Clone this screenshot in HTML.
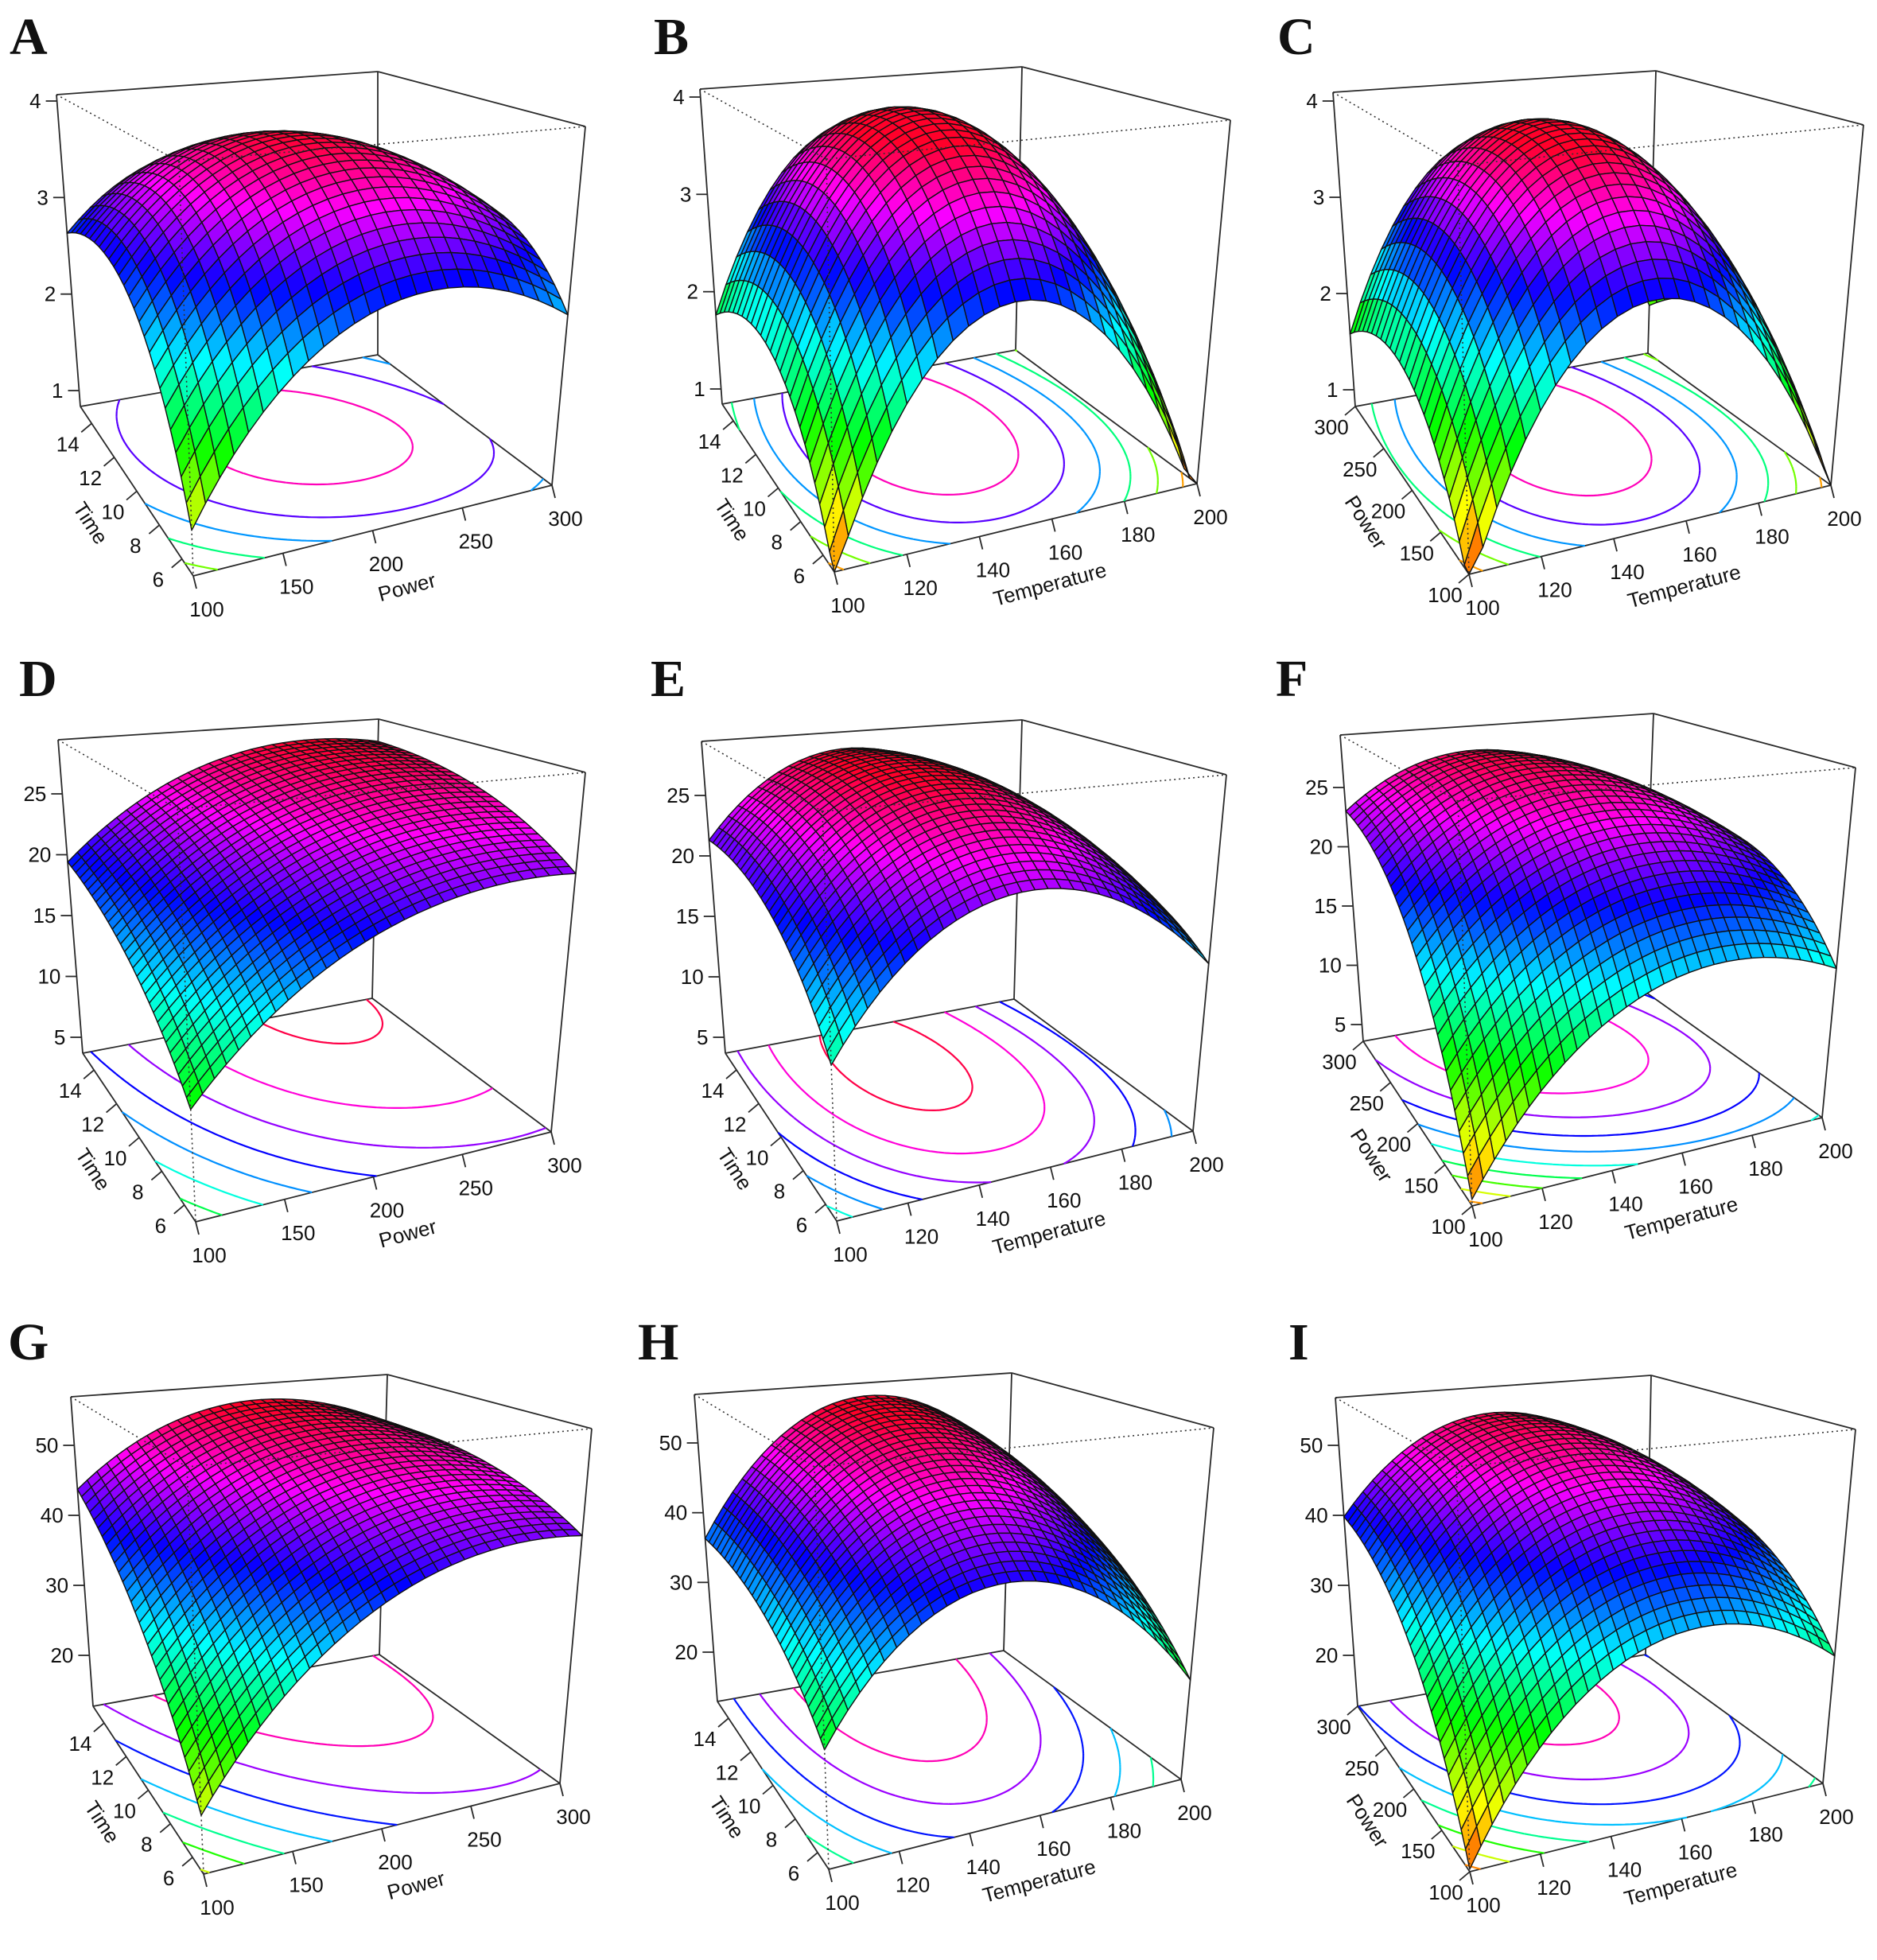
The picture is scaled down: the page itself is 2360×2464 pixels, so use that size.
<!DOCTYPE html>
<html><head><meta charset="utf-8">
<style>
html,body{margin:0;padding:0;background:#fff;}
svg{display:block;}
text{font-family:"Liberation Sans",Arial,sans-serif;fill:#111;}
.lbl{font-family:"Liberation Serif",serif;font-weight:bold;font-size:66px;}
</style></head>
<body>
<svg id="s" xmlns="http://www.w3.org/2000/svg" width="2360" height="2464" viewBox="0 0 2360 2464">
<rect width="2360" height="2464" fill="#fff"/>
<text class="lbl" x="12" y="68">A</text>
<text class="lbl" x="822" y="68">B</text>
<text class="lbl" x="1606" y="68">C</text>
<text class="lbl" x="24" y="875">D</text>
<text class="lbl" x="818" y="875">E</text>
<text class="lbl" x="1604" y="875">F</text>
<text class="lbl" x="10" y="1709">G</text>
<text class="lbl" x="802" y="1709">H</text>
<text class="lbl" x="1620" y="1709">I</text>
</svg>
<script>
(function(){
var NS="http://www.w3.org/2000/svg";
var svg=document.getElementById('s');
function el(tag,attrs,txt){var e=document.createElementNS(NS,tag);for(var k in attrs)e.setAttribute(k,attrs[k]);if(txt!==undefined)e.textContent=txt;svg.appendChild(e);return e;}
var time={name:"Time",lo:5,hi:15,ticks:[6,8,10,12,14]};
var power={name:"Power",lo:100,hi:300,ticks:[100,150,200,250,300]};
var temp={name:"Temperature",lo:100,hi:200,ticks:[100,120,140,160,180,200]};
var r1={lo:0.8,hi:3.8,lv:[1,1.5,2,2.5,3,3.5],zt:[1,2,3,4],n:25};
var r2={lo:3.5,hi:28,lv:[5,7.5,10,12.5,15,17.5,20,22.5,25,27.5],zt:[5,10,15,20,25],n:30};
var r3={lo:13,hi:54,lv:[15,20,25,30,35,40,45,50],zt:[20,30,40,50],n:30};
var panels=[
{c:{B00:[243,724],B10:[694,610],B01:[101,511],B11:[475,446],T00:[225,203],T10:[736,159],T01:[71,119],T11:[475,90]},tk:[[1,491],[4,127]],L:time,R:power,s:[1.19,2.37,2.63,2.68,2.62,3.78],r:r1},
{c:{B00:[1049,719],B10:[1505,608],B01:[908,508],B11:[1277,440],T00:[1039,200],T10:[1547,151],T01:[880,112],T11:[1285,84]},tk:[[1,489],[4,122]],L:time,R:temp,s:[0.8,0.7,1.76,2.74,2.02,3.98],r:r1},
{c:{B00:[1847,722],B10:[2302,610],B01:[1704,511],B11:[2072,444],T00:[1833,208],T10:[2343,157],T01:[1676,116],T11:[2082,89]},tk:[[1,490],[4,127]],L:power,R:temp,s:[0.7,0.8,1.58,2.78,1.87,3.92],r:r1},
{c:{B00:[246,1536],B10:[693,1423],B01:[104,1324],B11:[468,1255],T00:[223,1017],T10:[736,971],T01:[73,930],T11:[476,904]},tk:[[5,1304],[25,998]],L:time,R:power,s:[10.7,22.2,19.4,19.9,16.3,28],r:r2},
{c:{B00:[1052,1535],B10:[1500,1422],B01:[912,1324],B11:[1275,1256],T00:[1034,1020],T10:[1542,974],T01:[882,932],T11:[1285,905]},tk:[[5,1304],[25,1000]],L:time,R:temp,s:[13.5,15.8,21.3,22.8,19.8,28.5],r:r2},
{c:{B00:[1851,1516],B10:[2291,1405],B01:[1714,1309],B11:[2066,1245],T00:[1833,1007],T10:[2333,965],T01:[1685,924],T11:[2079,897]},tk:[[5,1288],[25,990]],L:power,R:temp,s:[4,14.6,23,15.3,17.6,27.5],r:r2},
{c:{B00:[256,2356],B10:[704,2242],B01:[117,2145],B11:[477,2080],T00:[235,1844],T10:[744,1796],T01:[89,1756],T11:[487,1728]},tk:[[20,2081],[50,1817]],L:time,R:power,s:[19.1,43.6,43.7,39,33.4,54.5],r:r3},
{c:{B00:[1042,2350],B10:[1485,2237],B01:[902,2139],B11:[1262,2075],T00:[1024,1844],T10:[1526,1795],T01:[873,1753],T11:[1272,1726]},tk:[[20,2077],[50,1814]],L:time,R:temp,s:[26,25.4,36.3,41.2,34.1,55],r:r3},
{c:{B00:[1848,2353],B10:[2292,2242],B01:[1707,2145],B11:[2069,2080],T00:[1831,1844],T10:[2333,1797],T01:[1679,1757],T11:[2076,1729]},tk:[[20,2081],[50,1817]],L:power,R:temp,s:[13,28.6,39.8,33.9,31.9,53],r:r3}
];
function bil(a,b,c,d,u,v){return[(1-u)*(1-v)*a[0]+u*(1-v)*b[0]+(1-u)*v*c[0]+u*v*d[0],(1-u)*(1-v)*a[1]+u*(1-v)*b[1]+(1-u)*v*c[1]+u*v*d[1]];}
function hue(t){t=Math.max(0,Math.min(1,t));return "hsl("+(15+335*t).toFixed(1)+",100%,50%)";}
function line(p,q,st,w,dash){var a={x1:p[0].toFixed(1),y1:p[1].toFixed(1),x2:q[0].toFixed(1),y2:q[1].toFixed(1),stroke:st,"stroke-width":w};if(dash)a["stroke-dasharray"]=dash;el("line",a);}
panels.forEach(function(pn){
 var C=pn.c;
 function P(u,v,w){var b=bil(C.B00,C.B10,C.B01,C.B11,u,v),t=bil(C.T00,C.T10,C.T01,C.T11,u,v);return[b[0]+(t[0]-b[0])*w,b[1]+(t[1]-b[1])*w];}
 var k1=pn.tk[0],k2=pn.tk[1];
 function zOfY(y){return k1[0]+(y-k1[1])*(k2[0]-k1[0])/(k2[1]-k1[1]);}
 var zmin=zOfY(C.B01[1]),zmax=zOfY(C.T01[1]);
 var S=pn.s,F=S[0],R=S[1],Lv=S[2],Mu=S[3],Mv=S[4],Pk=S[5];
 var gu=2*R+2*F-4*Mu,bu=R-F-gu,gv=2*Lv+2*F-4*Mv,bv=Lv-F-gv;
 function Zc(u,v,c){return F+bu*u+gu*u*u+bv*v+gv*v*v+c*u*v;}
 function mx(c){var m=-1e9;for(var i=0;i<=40;i++)for(var j=0;j<=40;j++){var z=Zc(i/40,j/40,c);if(z>m)m=z;}return m;}
 var lo=-8*(Pk-F),hi=8*(Pk-F);
 for(var it=0;it<50;it++){var mid=(lo+hi)/2;if(mx(mid)>Pk)hi=mid;else lo=mid;}
 var cc=(lo+hi)/2;
 function Z(u,v){return Zc(u,v,cc);}
 function W(z){return Math.max(0,Math.min(1,(z-zmin)/(zmax-zmin)));}
 var rr=pn.r;
 var st="#2a2a2a";
 line(C.B11,C.T11,st,1.8);line(C.T01,C.T11,st,1.8);line(C.T11,C.T10,st,1.8);
 line(C.B01,C.T01,st,1.8);line(C.B10,C.T10,st,1.8);
 line(C.B01,C.B11,st,1.8);line(C.B11,C.B10,st,1.8);
 line(C.B01,C.B00,st,1.8);line(C.B00,C.B10,st,1.8);
 var N=70,g=[];
 for(var i=0;i<=N;i++){g.push([]);for(var j2=0;j2<=N;j2++)g[i].push(Z(i/N,j2/N));}
 rr.lv.forEach(function(L){
  var d="";
  for(var i=0;i<N;i++)for(var j=0;j<N;j++){
   var pts=[];var cs=[[i,j],[i+1,j],[i+1,j+1],[i,j+1]];
   for(var e=0;e<4;e++){var a=cs[e],b=cs[(e+1)%4];var za=g[a[0]][a[1]],zb=g[b[0]][b[1]];
    if((za<L)!==(zb<L)){var t=(L-za)/(zb-za);pts.push([(a[0]+t*(b[0]-a[0]))/N,(a[1]+t*(b[1]-a[1]))/N]);}}
   for(var q=0;q+1<pts.length;q+=2){var p1=P(pts[q][0],pts[q][1],0),p2=P(pts[q+1][0],pts[q+1][1],0);
    d+="M"+p1[0].toFixed(1)+" "+p1[1].toFixed(1)+"L"+p2[0].toFixed(1)+" "+p2[1].toFixed(1);}
  }
  if(d)el("path",{d:d,fill:"none",stroke:hue((L-rr.lo)/(rr.hi-rr.lo)),"stroke-width":2.2});
 });
 var n=rr.n,fac=[];
 for(var i=0;i<n;i++)for(var j=0;j<n;j++)fac.push([i,j]);
 fac.sort(function(a,b){return (b[0]+b[1])-(a[0]+a[1]) || (Math.abs(a[0]-a[1])-Math.abs(b[0]-b[1]));});
 var grp=el("g",{stroke:"#111","stroke-width":1.4,"stroke-linejoin":"round"});
 fac.forEach(function(f){
  var i=f[0],j=f[1],cs=[[i,j],[i+1,j],[i+1,j+1],[i,j+1]],pts=[],zs=0;
  cs.forEach(function(c){var u=c[0]/n,v=c[1]/n,z=Z(u,v);zs+=z;var p=P(u,v,W(z));pts.push(p[0].toFixed(1)+","+p[1].toFixed(1));});
  var e=document.createElementNS(NS,"polygon");e.setAttribute("points",pts.join(" "));
  e.setAttribute("fill",hue((zs/4-rr.lo)/(rr.hi-rr.lo)));grp.appendChild(e);
 });
 line(C.T01,C.T00,"#333",1.6,"2,4");line(C.T00,C.T10,"#333",1.6,"2,4");line(C.T00,C.B00,"#333",1.6,"2,4");
 rr.zt.forEach(function(z){var w=(z-zmin)/(zmax-zmin);var p=P(0,1,w);
  line(p,[p[0]-14,p[1]],st,1.8);
  el("text",{x:(p[0]-20).toFixed(1),y:(p[1]+9).toFixed(1),"font-size":26,"text-anchor":"end"},String(z));});
 var La=pn.L;
 La.ticks.forEach(function(t){var v=(t-La.lo)/(La.hi-La.lo);var p=P(0,v,0);
  line(p,[p[0]-13,p[1]+11],st,1.8);
  el("text",{x:(p[0]-30).toFixed(1),y:(p[1]+35).toFixed(1),"font-size":26,"text-anchor":"middle"},String(t));});
 var mL=P(0,0.5,0);
 el("text",{x:0,y:0,"font-size":26,"text-anchor":"middle",transform:"translate("+(mL[0]-58).toFixed(1)+","+(mL[1]+40).toFixed(1)+") rotate(57) translate(0,9)"},La.name);
 var Ra=pn.R;
 Ra.ticks.forEach(function(t){var u=(t-Ra.lo)/(Ra.hi-Ra.lo);var p=P(u,0,0);
  line(p,[p[0]+4,p[1]+16],st,1.8);
  el("text",{x:(p[0]+17).toFixed(1),y:(p[1]+51).toFixed(1),"font-size":26,"text-anchor":"middle"},String(t));});
 var mR=P(0.5,0,0);
 el("text",{x:0,y:0,"font-size":26,"text-anchor":"middle",transform:"translate("+(mR[0]+43).toFixed(1)+","+(mR[1]+71).toFixed(1)+") rotate(-15) translate(0,9)"},Ra.name);
});
})();
</script>
</body></html>
